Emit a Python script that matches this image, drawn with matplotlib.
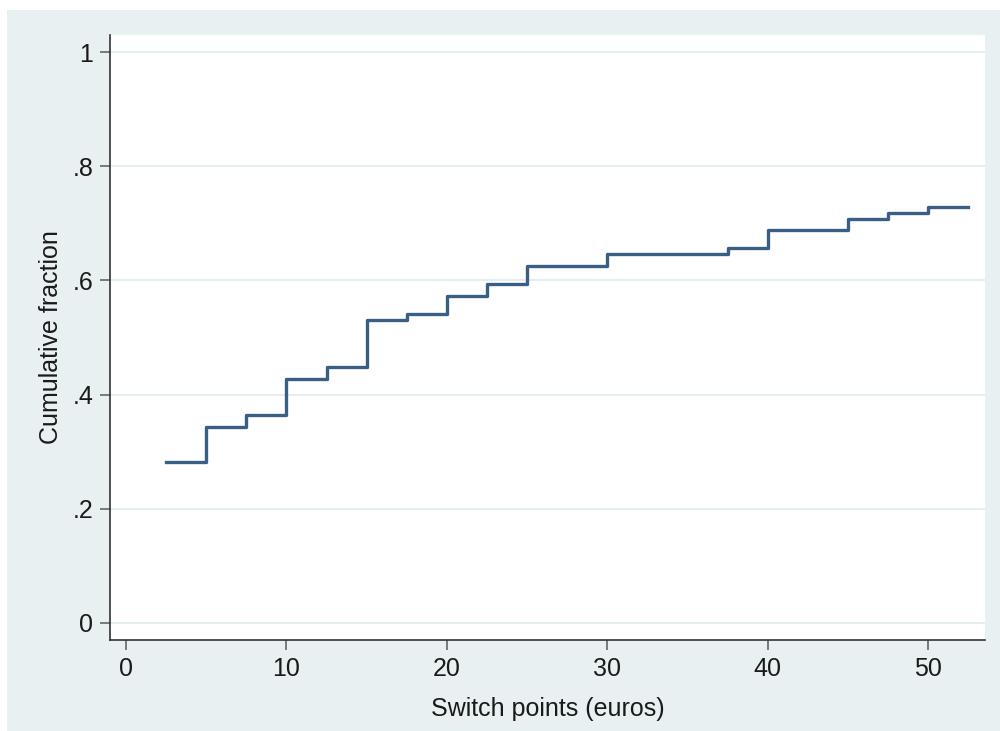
import matplotlib
matplotlib.use("Agg")
import matplotlib.pyplot as plt
from matplotlib.patches import Rectangle

# switch points (euros) and cumulative fraction at each point
switch_points = [2.5, 5, 7.5, 10, 12.5, 15, 17.5, 20, 22.5, 25, 27.5, 30,
                 32.5, 35, 37.5, 40, 42.5, 45, 47.5, 50, 52.5]
cum_fraction = [0.281, 0.344, 0.365, 0.427, 0.448, 0.531, 0.542, 0.573, 0.594,
                0.625, 0.625, 0.646, 0.646, 0.646, 0.656, 0.688, 0.688, 0.708,
                0.719, 0.729, 0.729]

x_ticks = [0, 10, 20, 30, 40, 50]
y_ticks = [0, 0.2, 0.4, 0.6, 0.8, 1.0]
y_tick_labels = ["0", ".2", ".4", ".6", ".8", "1"]

plt.rcParams['font.family'] = ['Liberation Sans', 'DejaVu Sans']

bg = '#e8f0f2'
fig = plt.figure(figsize=(10, 7.31), dpi=100, facecolor='white')
# stata-style outer panel
fig.patches.append(Rectangle((0.007, 0.0), 0.993, 1 - 10 / 731, transform=fig.transFigure,
                             facecolor=bg, edgecolor='none', zorder=-10))

ax = fig.add_axes([0.11, 1 - 640 / 731, 0.875, (640 - 35) / 731])
ax.set_facecolor('white')

ax.step(switch_points, cum_fraction, where='post', color='#3a5f85', lw=2.4)

ax.set_xlim(-1.0, 53.55)
ax.set_ylim(-0.03, 1.03)
ax.set_xticks(x_ticks)
ax.set_yticks(y_ticks)
ax.set_yticklabels(y_tick_labels)

ax.grid(axis='y', color='#e4eef0', lw=1.4)
ax.set_axisbelow(True)

for s in ['top', 'right']:
    ax.spines[s].set_visible(False)
for s in ['left', 'bottom']:
    ax.spines[s].set_color('#333333')
    ax.spines[s].set_linewidth(1.2)

ax.tick_params(axis='both', length=7, width=1.2, color='#666666',
               labelsize=18, labelcolor='#1a1a1a', pad=5)

ax.set_xlabel('Switch points (euros)', fontsize=18, color='#1a1a1a', labelpad=12)
ax.set_ylabel('Cumulative fraction', fontsize=18, color='#1a1a1a', labelpad=7)

plt.savefig('out.png', dpi=100, facecolor='white')
